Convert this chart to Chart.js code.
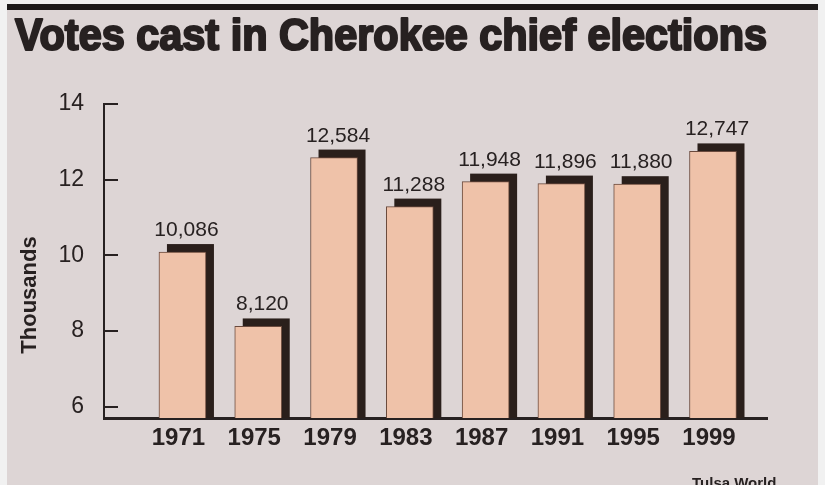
<!DOCTYPE html>
<html>
<head>
<meta charset="utf-8">
<script src="https://cdn.jsdelivr.net/npm/chart.js@4.4.1/dist/chart.umd.min.js"></script>
<style>
  html, body { margin: 0; padding: 0; background: #ddd5d5; }
  canvas { display: block; }
</style>
</head>
<body>
<canvas id="votesChart" width="825" height="485"></canvas>
<script>
const years = [1971, 1975, 1979, 1983, 1987, 1991, 1995, 1999];
const votes = [10086, 8120, 12584, 11288, 11948, 11896, 11880, 12747];
const yTicks = [6000, 8000, 10000, 12000, 14000];
const chartTitle = "Votes cast in Cherokee chief elections";
const yTitle = "Thousands";
const credit = "Tulsa World";

const ink = "#272121";

// paper, black rule, headline, axis title, credit line
const decor = {
    id: "decor",
    beforeDraw(chart) {
        const ctx = chart.ctx;
        ctx.save();
        ctx.fillStyle = "#ddd5d5";
        ctx.fillRect(0, 0, 825, 485);
        ctx.fillStyle = "#f1f1f1";
        ctx.fillRect(0, 0, 825, 4);
        ctx.fillRect(0, 0, 7, 485);
        ctx.fillRect(818, 0, 7, 485);
        ctx.fillStyle = "#1d1a1a";
        ctx.fillRect(7, 4, 811, 6);

        // heavy condensed headline
        ctx.font = 'bold 44px "Liberation Sans Narrow", "Liberation Sans", Arial, sans-serif';
        const w = ctx.measureText(chartTitle).width;
        ctx.translate(15, 50);
        ctx.scale(752 / w, 1);
        ctx.fillStyle = ink;
        ctx.strokeStyle = ink;
        ctx.lineWidth = 2.2;
        ctx.lineJoin = "round";
        ctx.textBaseline = "alphabetic";
        ctx.fillText(chartTitle, 0, 0);
        ctx.strokeText(chartTitle, 0, 0);
        ctx.restore();

        ctx.save();
        ctx.translate(30, 295);
        ctx.rotate(-Math.PI / 2);
        ctx.font = 'bold 22px "Liberation Sans", Arial, sans-serif';
        ctx.fillStyle = ink;
        ctx.textAlign = "center";
        ctx.textBaseline = "middle";
        ctx.fillText(yTitle, 0, 0);
        ctx.restore();

        ctx.save();
        ctx.font = 'bold 15px "Liberation Sans", Arial, sans-serif';
        ctx.fillStyle = ink;
        ctx.fillText(credit, 692, 488);
        ctx.restore();
    },
    beforeDatasetsDraw(chart) {
        // dark block shadow behind every bar
        const ctx = chart.ctx;
        const bottom = chart.chartArea.bottom;
        ctx.save();
        ctx.fillStyle = "#2a1f1b";
        chart.getDatasetMeta(0).data.forEach(bar => {
            ctx.fillRect(bar.x - bar.width / 2 + 8, bar.y - 8, bar.width, bottom - bar.y + 8);
        });
        ctx.restore();
    },
    afterDatasetsDraw(chart) {
        const ctx = chart.ctx;
        ctx.save();
        ctx.font = '21px "Liberation Sans", Arial, sans-serif';
        ctx.fillStyle = ink;
        ctx.textAlign = "center";
        ctx.textBaseline = "alphabetic";
        chart.getDatasetMeta(0).data.forEach((bar, i) => {
            ctx.fillText(votes[i].toLocaleString("en-US"), bar.x + 4, bar.y - 16);
        });

        // tick marks point into the plot
        const y = chart.scales.y;
        ctx.strokeStyle = ink;
        ctx.lineWidth = 2;
        yTicks.forEach(v => {
            const py = Math.round(y.getPixelForValue(v));
            ctx.beginPath();
            ctx.moveTo(y.right, py);
            ctx.lineTo(y.right + 14, py);
            ctx.stroke();
        });
        ctx.restore();
    }
};

const ctx = document.getElementById("votesChart").getContext("2d");

new Chart(ctx, {
    type: "bar",
    data: {
        datasets: [{
            data: years.map((yr, i) => ({ x: yr, y: votes[i] })),
            backgroundColor: "#efc2a9",
            borderColor: "#6a4a3d",
            borderWidth: 1,
            barThickness: 47
        }]
    },
    options: {
        responsive: false,
        animation: false,
        layout: { padding: { top: 104, right: 58, left: 0, bottom: 0 } },
        plugins: {
            legend: { display: false },
            tooltip: { enabled: false }
        },
        scales: {
            x: {
                type: "linear",
                offset: false,
                min: 1966.86,
                max: 2001.85,
                afterBuildTicks: scale => { scale.ticks = years.map(v => ({ value: v })); },
                afterFit: scale => { scale.height = 67; },
                grid: { display: false, drawTicks: false },
                border: { display: true, color: ink, width: 3 },
                ticks: {
                    color: ink,
                    padding: 6,
                    labelOffset: -4,
                    maxRotation: 0,
                    autoSkip: false,
                    font: { family: '"Liberation Sans", Arial, sans-serif', size: 24, weight: "bold" },
                    callback: v => String(v)
                }
            },
            y: {
                min: 5700,
                max: 14000,
                afterBuildTicks: scale => { scale.ticks = yTicks.map(v => ({ value: v })); },
                afterFit: scale => { scale.width = 104; },
                grid: { display: false, drawTicks: false },
                border: { display: true, color: ink, width: 2 },
                ticks: {
                    color: ink,
                    padding: 20,
                    font: { family: '"Liberation Sans", Arial, sans-serif', size: 23 },
                    callback: v => String(v / 1000)
                }
            }
        }
    },
    plugins: [decor]
});
</script>
</body>
</html>
